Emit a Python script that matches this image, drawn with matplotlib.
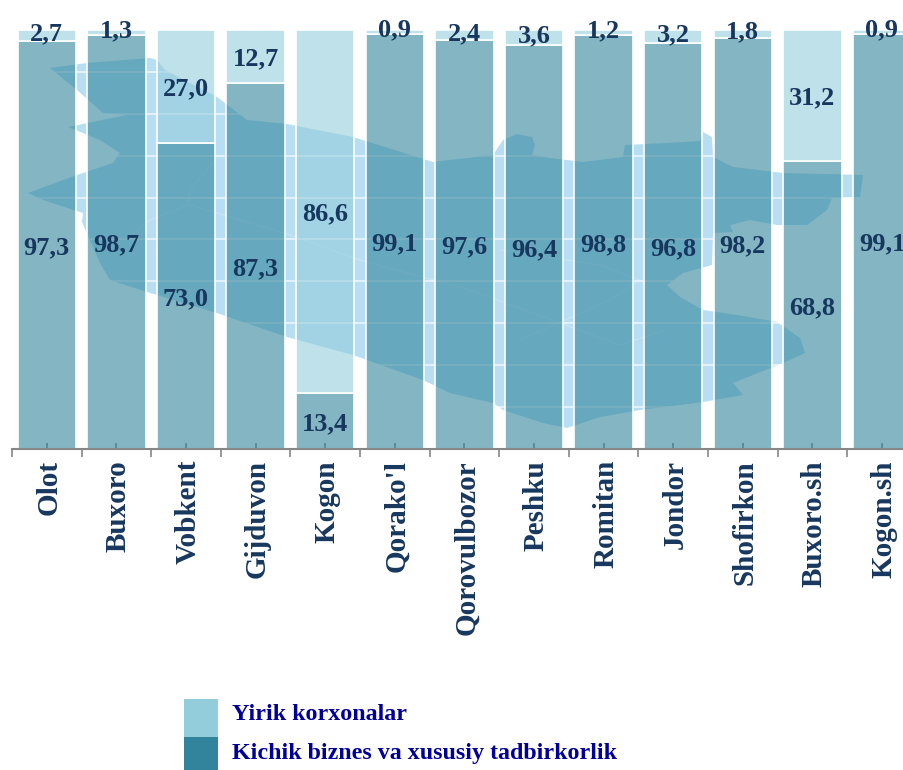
# encoding: utf-8
import numpy as np
import matplotlib
matplotlib.use('Agg')
import matplotlib.pyplot as plt
from matplotlib.patches import Polygon, Rectangle
from matplotlib.transforms import ScaledTranslation

W, H = 904, 770

# Step 1: the data
districts = ['Olot', 'Buxoro', 'Vobkent', "Gijduvon", 'Kogon', "Qorako'l", 'Qorovulbozor',
             'Peshku', 'Romitan', 'Jondor', 'Shofirkon', 'Buxoro.sh', 'Kogon.sh']
small_biz = [97.3, 98.7, 73.0, 87.3, 13.4, 99.1, 97.6, 96.4, 98.8, 96.8, 98.2, 68.8, 99.1]
large_biz = [2.7, 1.3, 27.0, 12.7, 86.6, 0.9, 2.4, 3.6, 1.2, 3.2, 1.8, 31.2, 0.9]

# background map of the region, traced in image pixels
map_outline = [(50, 68), (87, 63), (150, 58), (157, 60), (165, 70), (217, 97), (247, 120), (287, 124),
               (353, 137), (433, 162), (493, 155), (503, 140), (517, 134), (532, 137), (535, 145),
               (532, 155), (550, 158), (583, 162), (623, 157), (625, 145), (667, 143), (700, 141),
               (703, 132), (712, 137), (713, 157), (733, 167), (783, 173), (863, 175), (860, 197),
               (832, 198), (827, 210), (807, 225), (777, 225), (750, 220), (730, 225), (733, 232),
               (713, 233), (712, 265), (683, 273), (667, 285), (680, 297), (703, 310), (737, 315),
               (777, 322), (800, 338), (805, 353), (783, 363), (733, 383), (743, 395), (703, 402),
               (640, 410), (600, 417), (567, 428), (543, 423), (503, 410), (493, 403), (450, 393),
               (423, 380), (353, 355), (287, 337), (217, 313), (147, 292), (110, 280), (100, 263),
               (82, 222), (83, 213), (43, 200), (28, 193), (77, 175), (113, 163), (120, 153),
               (100, 140), (68, 127), (127, 115), (103, 113), (77, 90)]
rivers = [[(215, 160), (190, 190), (188, 205), (150, 220), (130, 235)],
          [(190, 205), (290, 235), (360, 260), (470, 290), (620, 345), (665, 330)],
          [(500, 250), (600, 265), (640, 280), (610, 300), (520, 340)]]

dark = '#31849B'
light = '#93CDDC'
text_c = '#17375E'


def to_fig(pts):
    return [(x / W, 1 - y / H) for x, y in pts]


# Step 2: the axes, wider than the picture as in the original
fig = plt.figure(figsize=(W / 100, H / 100), dpi=100)
ax = fig.add_axes([12 / W, 1 - 449 / H, 69.6 * 13 / W, 419 / H])
ax.set_xlim(-0.5, 12.5)
ax.set_ylim(0, 100)

ax.add_patch(Polygon(to_fig(map_outline), closed=True, transform=fig.transFigure,
                     facecolor='#B7DEF2', edgecolor='none', zorder=0))
for r in rivers:
    pts = np.array(to_fig(r))
    ax.plot(pts[:, 0], pts[:, 1], transform=fig.transFigure, color='white', alpha=0.25, lw=0.8, zorder=1)
ax.set_yticks(np.arange(10, 100, 10))
ax.grid(axis='y', color='white', lw=1.2, alpha=0.7, zorder=1)
ax.set_axisbelow(True)

# Step 3: stacked bars
x = np.arange(len(districts))
small = np.array(small_biz)
large = np.array(large_biz)
ax.bar(x, small, width=0.84, color=matplotlib.colors.to_rgba(dark, 0.6),
       edgecolor='white', lw=1.2, zorder=2)
ax.bar(x, large, bottom=small, width=0.84, color=matplotlib.colors.to_rgba(light, 0.6),
       edgecolor='white', lw=1.2, zorder=2, clip_on=False)

for i in x:
    ax.text(i, small[i] / 2 - 0.6, ('%.1f' % small[i]).replace('.', ','), ha='center', va='center',
            family='Liberation Serif', weight='bold', fontsize=19, color=text_c, zorder=3)
    # thin top segments: the label sits on the top edge of the bar
    y = small[i] + large[i] / 2 - 0.6 if large[i] > 5 else 100.4 - 0.5 * large[i]
    ax.text(i, y, ('%.1f' % large[i]).replace('.', ','), ha='center', va='center', family='Liberation Serif',
            weight='bold', fontsize=19, color=text_c, zorder=3, clip_on=False)

# Step 4: axis, ticks on the bin edges and small ones at the centres
for s in ['top', 'left', 'right']:
    ax.spines[s].set_visible(False)
ax.spines['bottom'].set_color('#868686')
ax.spines['bottom'].set_linewidth(1.5)
ax.tick_params(axis='y', left=False, labelleft=False)
ax.set_xticks(np.arange(-0.5, 13, 1))
ax.set_xticklabels([])
ax.tick_params(axis='x', which='major', direction='out', length=6, width=1.2, color='#868686')
ax.set_xticks(x, minor=True)
ax.set_xticklabels(districts, minor=True, rotation=90, family='Liberation Serif', weight='bold',
                   fontsize=21, color=text_c)
ax.tick_params(axis='x', which='minor', direction='in', length=4, width=1.2, color='#868686', pad=8)
shift = ScaledTranslation(2 / 100, 0, fig.dpi_scale_trans)
for lab in ax.get_xticklabels(minor=True):
    lab.set_transform(lab.get_transform() + shift)

# Step 5: legend squares and text
fig.add_artist(Rectangle((184 / W, 1 - 737 / H), 34 / W, 38 / H, transform=fig.transFigure,
                         facecolor=light, edgecolor='none'))
fig.add_artist(Rectangle((184 / W, 0), 34 / W, 33 / H, transform=fig.transFigure,
                         facecolor=dark, edgecolor='none'))
fig.text(232 / W, 1 - 714 / H, 'Yirik korxonalar', family='Liberation Serif', weight='bold',
         fontsize=17.3, color='#000099', va='center')
fig.text(232 / W, 1 - 754 / H, 'Kichik biznes va xususiy tadbirkorlik', family='Liberation Serif',
         weight='bold', fontsize=17.3, color='#000099', va='center')

fig.savefig('out.png', dpi=100)
